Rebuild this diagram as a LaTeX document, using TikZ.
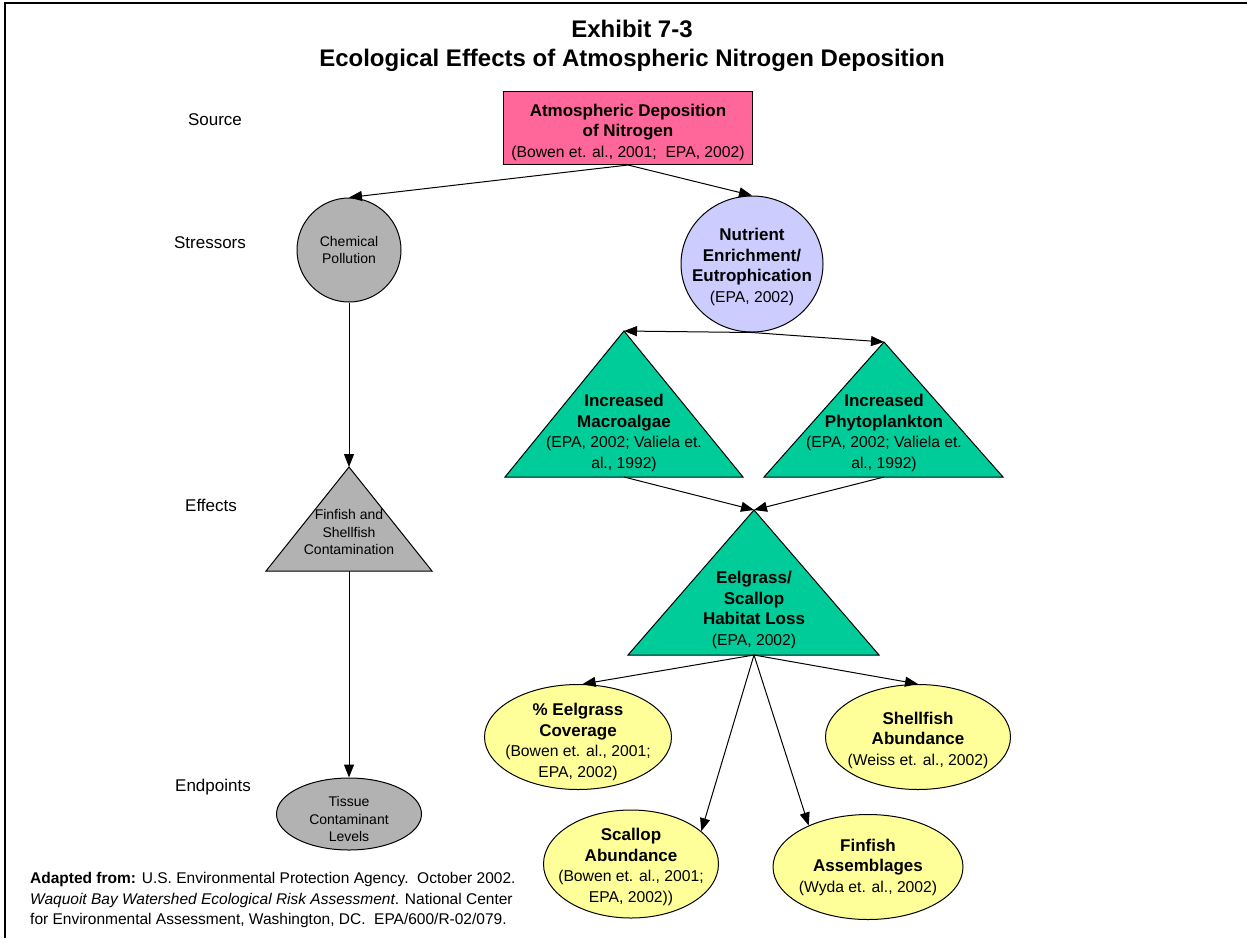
\documentclass[tikz,border=0pt]{standalone}
\usepackage{fontspec}
\setmainfont{Liberation Sans}
\usetikzlibrary{arrows.meta,shapes.geometric,positioning}
\definecolor{srcpink}{RGB}{255,102,153}
\definecolor{nutblue}{RGB}{204,204,255}
\definecolor{effgreen}{RGB}{0,204,153}
\definecolor{chemgrey}{RGB}{178,178,178}
\definecolor{endyellow}{RGB}{255,255,153}
\newcommand{\rf}[1]{{\fontsize{15.7}{20.5}\selectfont #1}}
\tikzstyle{tier} = [font=\fontsize{17}{20.5}\selectfont]
\tikzstyle{bigtext} = [align=center, inner sep=0pt, yshift=-3pt, font=\fontsize{17}{20.5}\selectfont]
\tikzstyle{smalltext} = [align=center, inner sep=0pt, font=\fontsize{14}{17.5}\selectfont]
\tikzstyle{srcbox} = [rectangle, draw=black, line width=1pt, fill=srcpink, minimum width=249pt, minimum height=73pt]
\tikzstyle{nutcirc} = [ellipse, draw=black, line width=1pt, fill=nutblue, minimum width=142pt, minimum height=136pt]
\tikzstyle{chemcirc} = [circle, draw=black, line width=1pt, fill=chemgrey, minimum size=104pt]
\tikzstyle{endell} = [ellipse, draw=black, line width=1pt, fill=endyellow, minimum height=105pt]
\tikzstyle{tissell} = [ellipse, draw=black, line width=1pt, fill=chemgrey, minimum width=145pt, minimum height=72pt]
\tikzstyle{tri} = [draw=black, line width=1pt]
\tikzstyle{link} = [line width=1pt, -{Triangle[length=13pt,width=10pt]}]

\begin{document}
\begin{tikzpicture}[x=1pt, y=-1pt]
\useasboundingbox (0,0) rectangle (1247,938);
\draw[line width=1.2pt] (5,938) -- (5,3) -- (1247,3);

\node (title) at (632,46) [align=center, font=\fontsize{24}{29}\selectfont\bfseries] {Exhibit 7-3\\Ecological Effects of Atmospheric Nitrogen Deposition};

\node (t-src) at (215,120) [tier] {Source};
\node (t-str) at (210,243) [tier] {Stressors};
\node (t-eff) at (211,505) [tier] {Effects};
\node (t-end) at (213,787) [tier] {Endpoints};

\node (src) at (628,128) [srcbox] {};
\node (src-txt) at (src) [bigtext, yshift=-1pt] {\textbf{Atmospheric Deposition}\\\textbf{of Nitrogen}\\\rf{(Bowen et. al., 2001;~~EPA, 2002)}};

\node (chem) at (349,250) [chemcirc] {};
\node (chem-txt) at (chem) [smalltext] {Chemical\\Pollution};

\node (nut) at (752,264) [nutcirc] {};
\node (nut-txt) at (nut) [bigtext] {\textbf{Nutrient}\\\textbf{Enrichment/}\\\textbf{Eutrophication}\\\rf{(EPA, 2002)}};

\coordinate (mac-top) at (624,331);
\coordinate (mac-bot) at (624,477);
\filldraw[tri, fill=effgreen] (mac-top) -- (743,477) -- (505,477) -- cycle;
\node (mac-txt) at (624,430) [bigtext] {\textbf{Increased}\\\textbf{Macroalgae}\\\rf{(EPA, 2002; Valiela et.}\\\rf{al., 1992)}};

\coordinate (phy-top) at (884,342);
\coordinate (phy-bot) at (884,477);
\filldraw[tri, fill=effgreen] (phy-top) -- (1003,477) -- (764,477) -- cycle;
\node (phy-txt) at (884,430) [bigtext] {\textbf{Increased}\\\textbf{Phytoplankton}\\\rf{(EPA, 2002; Valiela et.}\\\rf{al., 1992)}};

\coordinate (eel-top) at (754,510);
\coordinate (eel-bot) at (754,655);
\filldraw[tri, fill=effgreen] (eel-top) -- (879,655) -- (628,655) -- cycle;
\node (eel-txt) at (754,607) [bigtext] {\textbf{Eelgrass/}\\\textbf{Scallop}\\\textbf{Habitat Loss}\\\rf{(EPA, 2002)}};

\coordinate (fcon-top) at (349,467);
\coordinate (fcon-bot) at (349,571);
\filldraw[tri, fill=chemgrey] (fcon-top) -- (432,571) -- (266,571) -- cycle;
\node (fcon-txt) at (349,532) [smalltext] {Finfish and\\Shellfish\\Contamination};

\node (cover) at (578,737) [endell, minimum width=187pt] {};
\node (cover-txt) at (cover) [bigtext, yshift=-2pt] {\textbf{\% Eelgrass}\\\textbf{Coverage}\\\rf{(Bowen et. al., 2001;}\\\rf{EPA, 2002)}};

\node (shell) at (918,737) [endell, minimum width=185pt] {};
\node (shell-txt) at (shell) [bigtext] {\textbf{Shellfish}\\\textbf{Abundance}\\\rf{(Weiss et. al., 2002)}};

\node (scal) at (631,864) [endell, minimum width=175pt, minimum height=108pt] {};
\node (scal-txt) at (scal) [bigtext] {\textbf{Scallop}\\\textbf{Abundance}\\\rf{(Bowen et. al., 2001;}\\\rf{EPA, 2002))}};

\node (fin) at (868,867) [endell, minimum width=190pt] {};
\node (fin-txt) at (fin) [bigtext, yshift=3pt] {\textbf{Finfish}\\\textbf{Assemblages}\\\rf{(Wyda et. al., 2002)}};

\node (tiss) at (349,814) [tissell] {};
\node (tiss-txt) at (tiss) [smalltext, yshift=-5pt] {Tissue\\Contaminant\\Levels};

\node (cite) at (30,900) [anchor=west, align=left, inner sep=0pt, font=\fontsize{15.5}{20.5}\selectfont] {\textbf{Adapted from:} U.S. Environmental Protection Agency.~~October 2002.\\\textit{Waquoit Bay Watershed Ecological Risk Assessment}. National Center\\for Environmental Assessment, Washington, DC.~~EPA/600/R-02/079.};

\draw[link] (src.south) -- (chem.north);
\draw[link] (src.south) -- (nut.north);
\draw[link] (nut.south) -- (mac-top);
\draw[link] (nut.south) -- (phy-top);
\draw[link] (mac-bot) -- (eel-top);
\draw[link] (phy-bot) -- (eel-top);
\draw[link] (eel-bot) -- (cover.85);
\draw[link] (eel-bot) -- (shell.north);
\draw[link] (eel-bot) -- (scal.25);
\draw[link] (eel-bot) -- (fin.145);
\draw[link] (chem.south) -- (fcon-top);
\draw[link] (fcon-bot) -- (tiss.north);
\end{tikzpicture}
\end{document}
